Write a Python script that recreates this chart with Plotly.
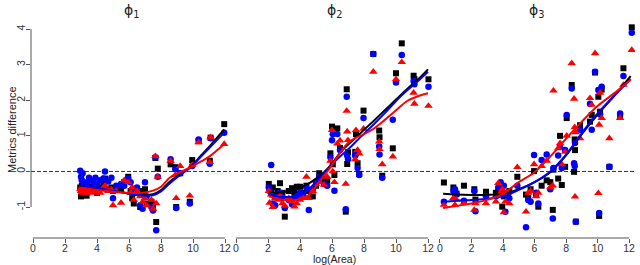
import plotly.graph_objects as go

# ---------------- data ----------------
P1_X     = [2.95, 3.00, 3.05, 3.10, 3.20, 3.35, 3.50, 3.60, 3.80, 3.90, 4.00, 4.20, 4.40, 4.50, 4.70, 4.90,
            5.00, 5.20, 5.50, 5.70, 5.95, 6.10, 6.20, 6.30, 6.50, 6.70, 6.85, 7.00, 7.10, 7.40, 7.50, 7.65,
            7.70, 7.80, 8.60, 8.90, 8.95, 9.20, 9.80, 9.95, 10.35, 11.05, 11.10, 11.95]
P1_BLACK = [-0.45, -0.70, -0.40, -0.50, -0.65, -0.68, -0.42, -0.55, -0.48, -0.40, -0.60, -0.45, -0.35, -0.20, -0.50, -0.45,
            -0.55, -0.50, -0.50, -0.30, -0.15, -0.55, -0.75, -0.90, -0.60, -1.00, -0.55, -0.50, -0.90, -0.85, -0.95, 0.38,
            -1.42, 0.08, 0.20, 0.12, -1.00, -0.05, -0.85, 0.32, 0.85, 0.30, 0.95, 1.33]
P1_BLUE  = [0.02, -0.15, -0.25, -0.05, -0.35, -0.30, -0.18, -0.25, -0.32, -0.18, -0.35, -0.25, -0.20, 0.00, -0.28, -0.18,
            -0.75, -0.40, -0.35, -0.40, -0.20, -0.30, -0.50, -0.60, -0.45, -0.95, -1.05, -0.30, -0.70, -1.00, -1.10, 0.40,
            -1.65, -0.15, 0.34, 0.06, -1.03, -0.05, -0.90, 0.15, 0.90, 0.22, 0.93, 1.09]
P1_RED   = [-0.50, -0.55, -0.45, -0.60, -0.55, -0.62, -0.50, -0.58, -0.60, -0.50, -0.55, -0.60, -0.45, -0.40, -0.55, -0.50,
            -0.95, -0.55, -0.88, -0.25, -0.30, -0.60, -0.45, -0.80, -0.55, -0.70, -0.85, -0.75, -0.95, -0.80, -1.05, 0.43,
            -0.90, -0.15, 0.30, -0.10, -0.75, 0.15, -0.68, 0.18, 0.82, 0.26, 0.96, 0.77]
P1_CX       = [2.95, 4.0, 5.0, 6.0, 7.0, 7.5, 8.0, 8.56, 9.2, 9.9, 10.5, 11.06, 11.95]
P1_C_BLACK  = [-0.41, -0.48, -0.55, -0.62, -0.66, -0.64, -0.52, -0.28, -0.07, 0.15, 0.45, 0.72, 1.18]
P1_C_BLUE   = [-0.38, -0.46, -0.54, -0.62, -0.68, -0.67, -0.56, -0.33, -0.10, 0.13, 0.42, 0.68, 1.09]
P1_C_RED    = [-0.45, -0.52, -0.57, -0.60, -0.59, -0.54, -0.43, -0.17, -0.02, 0.13, 0.28, 0.43, 0.77]

P2_X     = [2.05, 2.10, 2.20, 2.30, 2.45, 2.60, 2.75, 2.90, 3.05, 3.30, 3.50, 3.65, 3.80, 4.00, 4.20, 4.40,
            4.55, 4.80, 5.00, 5.20, 5.50, 5.70, 5.90, 6.00, 6.05, 6.15, 6.33, 6.50, 6.86, 6.92, 6.95, 7.00,
            7.45, 7.50, 7.60, 7.70, 7.97, 8.58, 8.95, 8.97, 9.14, 9.80, 10.00, 10.36, 11.10, 11.15, 12.03]
P2_BLACK = [-0.35, -0.50, -0.60, -0.45, -0.70, -0.55, -0.33, -0.60, -1.27, -0.55, -0.47, -0.60, -0.43, -0.43, -0.60, -0.40,
            -0.55, -0.70, -0.40, -0.05, -0.20, -0.25, 0.51, 1.26, 0.20, -0.10, 1.21, 0.66, -1.13, 2.31, 0.21, 0.54,
            0.55, 1.05, 0.23, -0.07, 1.71, 3.30, 1.15, 0.96, -0.12, 0.65, 2.76, 3.60, 2.69, 2.60, 2.59]
P2_BLUE  = [-0.45, -0.55, 0.18, -0.90, -0.95, -0.70, -0.60, -0.75, -1.03, -0.80, -0.92, -0.75, -0.70, -0.60, -0.70, -0.45,
            -1.08, -0.50, -0.30, -0.15, -0.35, -0.40, 0.40, 0.88, 1.05, -0.54, 1.05, 0.60, -1.06, 2.10, 0.45, 0.35,
            0.45, 0.50, 0.10, -0.10, 1.50, 3.30, 0.70, 0.48, -0.18, 1.45, 2.50, 3.27, 2.54, 2.45, 2.38]
P2_RED   = [-0.55, -0.88, -0.65, -1.00, -0.75, -0.80, -0.68, -0.90, -0.97, -0.75, -0.85, -0.99, -0.90, -0.80, -0.75, -0.15,
            -0.75, -0.55, -0.35, -0.30, -0.38, -0.15, 0.30, 1.16, 0.00, -0.30, 0.78, 0.87, -0.35, 1.70, 1.12, 0.88,
            0.34, 1.16, 0.60, 0.50, 1.20, 2.80, 0.84, 0.63, 0.20, 0.42, 2.59, 3.07, 2.21, 1.90, 1.84]
P2_CX       = [2.05, 2.5, 3.0, 3.5, 4.0, 4.5, 5.0, 5.5, 6.0, 6.5, 7.0, 7.5, 8.0, 8.6, 9.3, 10.0, 10.7, 11.4, 12.0]
P2_C_BLACK  = [-0.57, -0.60, -0.58, -0.50, -0.45, -0.35, -0.20, -0.02, 0.22, 0.52, 0.75, 0.96, 1.17, 1.42, 1.72, 2.02, 2.32, 2.60, 2.87]
P2_C_BLUE   = [-0.62, -0.70, -0.72, -0.71, -0.66, -0.52, -0.30, -0.05, 0.20, 0.42, 0.62, 0.84, 1.06, 1.32, 1.64, 1.98, 2.28, 2.55, 2.80]
P2_C_RED    = [-0.70, -0.76, -0.80, -0.81, -0.78, -0.68, -0.42, -0.12, 0.18, 0.52, 0.80, 0.95, 1.05, 1.20, 1.45, 1.72, 1.98, 2.12, 2.20]

P3_X     = [0.25, 0.85, 0.95, 1.05, 1.52, 2.18, 2.25, 2.92, 3.55, 3.70, 3.85, 3.95, 4.05, 4.15, 4.30, 4.40,
            4.91, 5.46, 5.60, 5.75, 5.97, 6.10, 6.24, 6.45, 6.77, 7.00, 7.16, 7.20, 7.50, 7.62, 7.73, 7.94,
            8.04, 8.36, 8.51, 8.55, 8.57, 8.62, 8.89, 9.52, 9.63, 9.84, 10.05, 10.10, 10.16, 10.26, 10.75,
            11.43, 11.64, 12.17]
P3_BLACK = [-0.31, -0.45, -0.60, -0.62, -0.40, -0.50, -0.79, -0.57, -0.60, -0.50, -0.55, -0.99, -0.70, -0.60, -0.68, -0.55,
            -0.15, -0.65, -0.75, -0.50, 0.01, -0.66, -0.99, -0.40, -0.25, -0.30, -1.08, 0.05, -0.20, 1.00, -0.38, 0.13,
            1.50, 2.43, -0.01, 0.90, 0.60, -1.41, 1.30, 1.40, 1.59, 2.78, 2.10, -1.25, 1.68, 2.30, 0.13,
            1.54, 2.90, 4.05]
P3_BLUE  = [-0.85, -0.55, -0.50, -0.65, -0.82, -0.55, -1.12, -0.70, -0.70, -0.45, -0.30, -0.60, -0.40, -1.13, -0.70, -0.75,
            -0.40, -1.57, -0.80, -0.85, 0.46, -0.60, -0.90, 0.32, 0.48, -0.50, -1.32, 0.10, 0.45, 0.70, 0.10, 0.60,
            1.59, 2.33, 0.23, 0.15, 0.80, -1.41, 1.17, 1.90, 1.17, 2.80, 2.29, -1.17, 1.60, 2.38, 0.13,
            1.63, 2.68, 3.90]
P3_RED   = [-0.94, -0.75, -0.94, -0.80, -0.88, -1.08, -0.90, -0.90, -0.85, -0.33, -0.60, -0.50, -1.15, -0.85, -0.60, -0.90,
            0.12, -1.13, -0.60, -0.55, 0.20, -0.70, -0.60, 0.15, 0.30, -0.45, -0.40, 2.27, 0.65, 0.79, 0.20, 0.55,
            1.00, 3.04, 2.04, 1.24, -0.71, 1.10, 0.93, 2.06, 1.87, 3.32, -0.61, 1.31, 2.21, 1.50, 0.93,
            1.50, 2.43, 3.41]
P3_CX       = [0.2, 1.0, 2.0, 3.0, 4.0, 5.0, 6.0, 7.0, 8.0, 9.0, 10.0, 11.0, 12.1]
P3_C_BLACK  = [-0.63, -0.65, -0.66, -0.66, -0.63, -0.50, -0.30, -0.02, 0.45, 1.05, 1.60, 2.10, 2.68]
P3_C_BLUE   = [-0.85, -0.82, -0.80, -0.77, -0.70, -0.52, -0.30, 0.00, 0.47, 1.08, 1.63, 2.10, 2.60]
P3_C_RED    = [-1.03, -0.97, -0.90, -0.80, -0.62, -0.30, -0.02, 0.42, 0.92, 1.40, 1.84, 2.18, 2.58]

PANEL_TITLES = ["ϕ<sub>1</sub>", "ϕ<sub>2</sub>", "ϕ<sub>3</sub>"]
X_TICKS = [0, 2, 4, 6, 8, 10, 12]
Y_TICKS = [-1, 0, 1, 2, 3, 4]

# ---------------- figure ----------------
W, H = 640, 265
panels = [
    (P1_X, P1_BLACK, P1_BLUE, P1_RED, P1_CX, P1_C_BLACK, P1_C_BLUE, P1_C_RED),
    (P2_X, P2_BLACK, P2_BLUE, P2_RED, P2_CX, P2_C_BLACK, P2_C_BLUE, P2_C_RED),
    (P3_X, P3_BLACK, P3_BLUE, P3_RED, P3_CX, P3_C_BLACK, P3_C_BLUE, P3_C_RED),
]
dom_px = [(31, 231), (234, 434), (438, 635)]
x_range = [-0.125, 12.375]
y_top_px, y_bot_px = 22, 238
y_dom = [1 - y_bot_px / H, 1 - y_top_px / H]

BLACK, BLUE, RED = "#000000", "#0000FF", "#FF0000"
AX = "#555555"
FONT = "Liberation Sans, Arial, Helvetica, sans-serif"

fig = go.Figure()
shapes = []
annotations = []

for i, (px, bk, bl, rd, cx, cbk, cbl, crd) in enumerate(panels):
    xa = "x" if i == 0 else f"x{i+1}"
    for ys, col, sym, sz in [(bk, BLACK, "square", 6), (bl, BLUE, "circle", 6.5), (rd, RED, "triangle-up", 7.5)]:
        fig.add_trace(go.Scatter(x=px, y=ys, xaxis=xa, yaxis="y", mode="markers",
                                 marker=dict(symbol=sym, size=sz, color=col, line=dict(width=0)),
                                 showlegend=False, hoverinfo="skip"))
    for ys, col in [(cbk, BLACK), (cbl, BLUE), (crd, RED)]:
        fig.add_trace(go.Scatter(x=cx, y=ys, xaxis=xa, yaxis="y", mode="lines",
                                 line=dict(color=col, width=2, shape="spline", smoothing=0.9),
                                 showlegend=False, hoverinfo="skip"))
    # dashed zero line
    shapes.append(dict(type="line", xref=f"{xa} domain", yref="y", x0=0, x1=1, y0=0, y1=0,
                       line=dict(color="#333333", width=1, dash="4px,2px"), layer="below"))
    # x axis line from first to last tick
    shapes.append(dict(type="line", xref=xa, yref="y domain", x0=X_TICKS[0], x1=X_TICKS[-1], y0=0, y1=0,
                       line=dict(color=AX, width=1)))
    d = dom_px[i]
    annotations.append(dict(text=PANEL_TITLES[i], xref="paper", yref="paper",
                            x=(d[0] + d[1]) / 2 / W, y=1 - 11 / H, showarrow=False,
                            font=dict(family="DejaVu Sans, " + FONT, size=14, color="#222222"),
                            xanchor="center", yanchor="middle"))

# y axis line from first to last tick
shapes.append(dict(type="line", xref="x domain", yref="y", x0=0, x1=0, y0=Y_TICKS[0], y1=Y_TICKS[-1],
                   line=dict(color=AX, width=1)))

annotations.append(dict(text="log(Area)", xref="paper", yref="paper", x=334 / W, y=1 - 259 / H,
                        showarrow=False, font=dict(family=FONT, size=10.5, color="#222222"),
                        xanchor="center", yanchor="middle"))
annotations.append(dict(text="Metrics difference", xref="paper", yref="paper", x=12 / W, y=1 - 130 / H,
                        showarrow=False, textangle=-90, font=dict(family=FONT, size=11, color="#222222"),
                        xanchor="center", yanchor="middle"))

xaxis_common = dict(range=x_range, tickmode="array", tickvals=X_TICKS, ticktext=[str(t) for t in X_TICKS],
                    ticks="outside", ticklen=4, tickcolor=AX, tickwidth=1, showgrid=False, zeroline=False,
                    showline=False, tickfont=dict(family=FONT, size=10.5, color="#333333"), anchor="y",
                    ticklabelstandoff=-4, fixedrange=True)

layout = dict(
    width=W, height=H, margin=dict(l=0, r=0, t=0, b=0),
    paper_bgcolor="white", plot_bgcolor="white", template="none",
    yaxis=dict(range=[-1.87, 4.2], domain=y_dom, tickmode="array", tickvals=Y_TICKS,
               ticktext=[str(t) for t in Y_TICKS], ticks="outside", ticklen=4, tickcolor=AX,
               tickwidth=1, tickangle=-90, showgrid=False, zeroline=False, showline=False,
               tickfont=dict(family=FONT, size=10.5, color="#333333"), anchor="x",
               ticklabelstandoff=-3, fixedrange=True),
    shapes=shapes, annotations=annotations, showlegend=False,
)
for i, d in enumerate(dom_px):
    key = "xaxis" if i == 0 else f"xaxis{i+1}"
    layout[key] = dict(xaxis_common, domain=[d[0] / W, d[1] / W])

fig.update_layout(**layout)
fig.write_html("out.html", config={"displayModeBar": False},
               post_script="document.body.style.margin='0';document.body.style.padding='0';"
                           "document.body.style.overflow='hidden';")
